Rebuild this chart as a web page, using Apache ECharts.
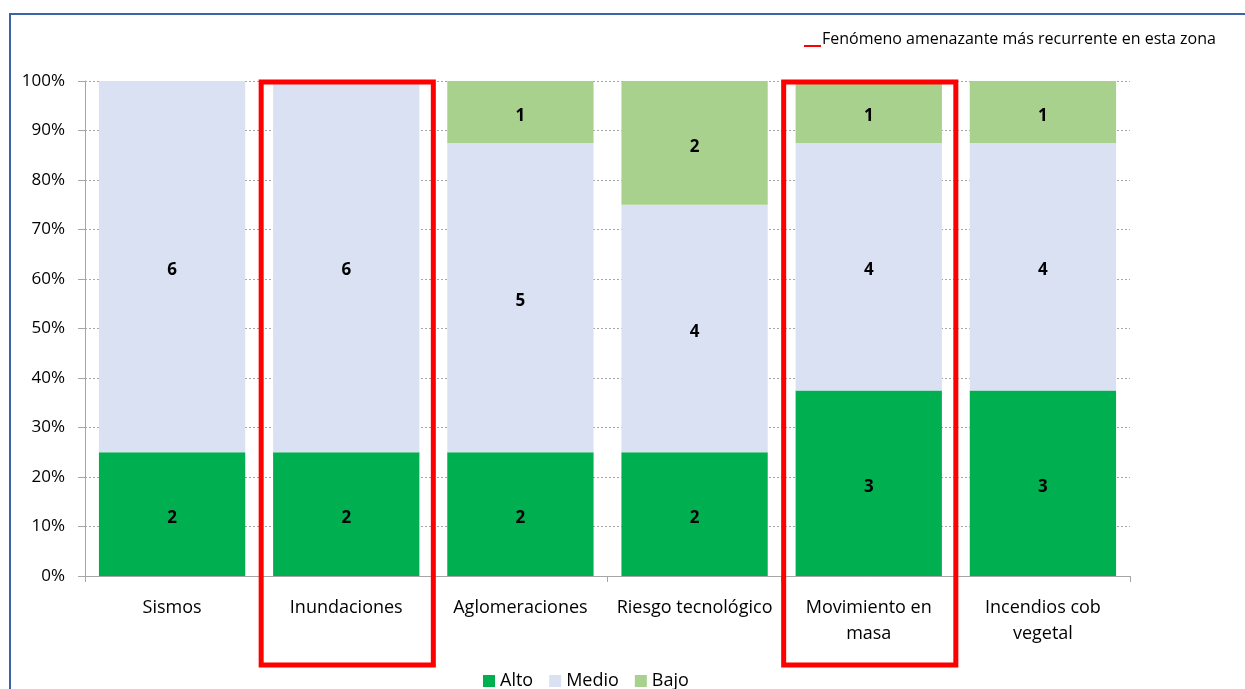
<!DOCTYPE html>
<html>
<head>
<meta charset="utf-8">
<script src="https://cdn.jsdelivr.net/npm/echarts@6/dist/echarts.min.js"></script>
<style>
  html, body { margin: 0; padding: 0; background: #fff; }
  #chart { width: 1245px; height: 689px; }
</style>
</head>
<body>
<div id="chart"></div>
<script>
// datos
var categorias = ['Sismos', 'Inundaciones', 'Aglomeraciones', 'Riesgo tecnológico', 'Movimiento en\nmasa', 'Incendios cob\nvegetal'];
var alto = [2, 2, 2, 2, 3, 3];
var medio = [6, 6, 5, 4, 4, 4];
var bajo = [0, 0, 1, 2, 1, 1];
var recurrentes = [1, 4];   // indices con recuadro rojo
var notaRecurrente = 'Fenómeno amenazante más recurrente en esta zona';

var fuente = "'Open Sans', 'Noto Sans', sans-serif";

function pct(arr){
  return arr.map(function(v, i){
    var tot = alto[i] + medio[i] + bajo[i];
    return { value: v / tot * 100, count: v };
  });
}

var myChart = echarts.init(document.getElementById('chart'));

function serie(nombre, datos, color){
  return {
    name: nombre,
    type: 'bar',
    stack: 'total',
    barWidth: '84%',
    itemStyle: { color: color },
    label: {
      show: true,
      position: 'inside',
      fontFamily: fuente,
      fontSize: 17,
      fontWeight: 'bold',
      color: '#000',
      offset: [0, 4],
      formatter: function(p){ return p.data.count > 0 ? p.data.count : ''; }
    },
    data: pct(datos)
  };
}

var option = {
  animation: false,
  textStyle: { fontFamily: fuente },
  grid: { left: 85, right: 115, top: 81, bottom: 113 },
  legend: {
    bottom: -6,
    left: 478,
    itemWidth: 12,
    itemHeight: 12,
    itemGap: 16,
    icon: 'rect',
    textStyle: { fontSize: 18, color: '#000', fontFamily: fuente },
    data: ['Alto', 'Medio', 'Bajo']
  },
  xAxis: {
    type: 'category',
    data: categorias,
    axisLine: { lineStyle: { color: '#a6a6a6', width: 1 } },
    axisTick: { show: true, length: 6, lineStyle: { color: '#a6a6a6' } },
    axisLabel: { color: '#000', fontSize: 18, margin: 19, lineHeight: 26, interval: 0, fontFamily: fuente }
  },
  yAxis: {
    type: 'value',
    min: 0,
    max: 100,
    interval: 10,
    axisLine: { show: true, lineStyle: { color: '#a6a6a6' } },
    axisTick: { show: true, length: 7, lineStyle: { color: '#a6a6a6' } },
    axisLabel: { formatter: '{value}%', color: '#000', fontSize: 17, margin: 20, fontFamily: fuente },
    splitLine: { lineStyle: { color: '#a6a6a6', type: [2, 2] } }
  },
  series: [
    serie('Alto', alto, '#00b050'),
    serie('Medio', medio, '#dae1f3'),
    serie('Bajo', bajo, '#a9d18e')
  ]
};
myChart.setOption(option);

// recuadros rojos y marco, calculados con las escalas del grafico
function anotar(){
  var p0 = myChart.convertToPixel({ xAxisIndex: 0 }, 0);
  var p1 = myChart.convertToPixel({ xAxisIndex: 0 }, 1);
  var banda = p1 - p0;
  var yTop = myChart.convertToPixel({ yAxisIndex: 0 }, 100);
  var yBase = myChart.convertToPixel({ yAxisIndex: 0 }, 0);
  var graficos = [
    { type: 'rect', shape: { x: 10, y: 14, width: 1400, height: 1000 },
      style: { fill: 'none', stroke: '#3e62a6', lineWidth: 2 }, silent: true },
    { type: 'line', shape: { x1: 804, y1: 46, x2: 821, y2: 46 },
      style: { stroke: '#ff0000', lineWidth: 2 } },
    { type: 'text', x: 822, y: 39,
      style: { text: notaRecurrente, fill: '#000', font: '16px ' + fuente, textVerticalAlign: 'middle' } }
  ];
  recurrentes.forEach(function(i){
    var cx = myChart.convertToPixel({ xAxisIndex: 0 }, i);
    graficos.push({
      type: 'rect',
      shape: { x: cx - banda / 2 + 2, y: yTop + 1, width: banda - 2, height: yBase - yTop + 88 },
      style: { fill: 'none', stroke: '#ff0000', lineWidth: 5 },
      z: 100
    });
  });
  myChart.setOption({ graphic: graficos });
}
anotar();
</script>
</body>
</html>
